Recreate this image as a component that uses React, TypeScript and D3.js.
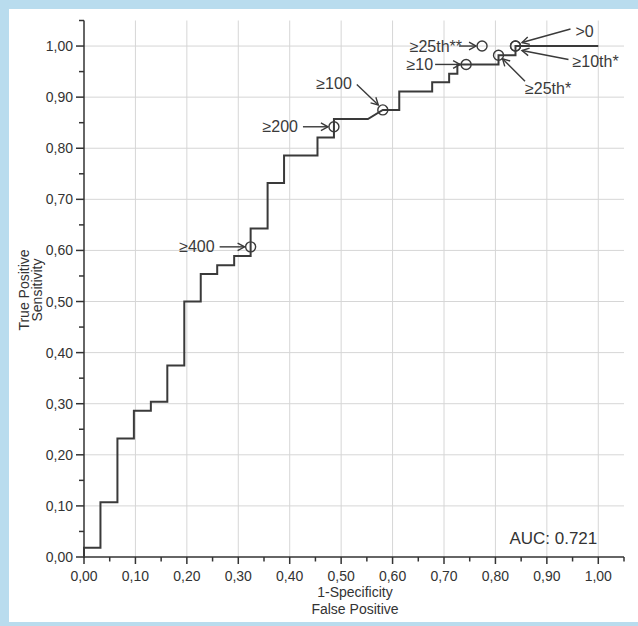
import React from "react";
import * as d3 from "d3";

// ROC curve vertices (1-Specificity, Sensitivity)
const FPR = [0, 0, 0.032, 0.032, 0.065, 0.065, 0.097, 0.097, 0.130, 0.130, 0.162, 0.162, 0.195, 0.195, 0.227, 0.227, 0.259, 0.259, 0.292, 0.292, 0.324, 0.324, 0.357, 0.357, 0.389, 0.389, 0.454, 0.454, 0.486, 0.486, 0.552, 0.581, 0.613, 0.613, 0.677, 0.677, 0.710, 0.710, 0.726, 0.726, 0.806, 0.806, 0.839, 0.839, 1.0];
const TPR = [0, 0.018, 0.018, 0.107, 0.107, 0.232, 0.232, 0.286, 0.286, 0.304, 0.304, 0.375, 0.375, 0.500, 0.500, 0.554, 0.554, 0.571, 0.571, 0.589, 0.589, 0.643, 0.643, 0.732, 0.732, 0.786, 0.786, 0.821, 0.821, 0.857, 0.857, 0.875, 0.875, 0.911, 0.911, 0.929, 0.929, 0.946, 0.946, 0.964, 0.964, 0.982, 0.982, 1.0, 1.0];

// Annotated cut-off points
const ANN_LABELS = ["≥400", "≥200", "≥100", "≥10", "≥25th**", "≥25th*", ">0", "≥10th*"];
const ANN_FPR = [0.324, 0.486, 0.581, 0.743, 0.774, 0.806, 0.839, 0.839];
const ANN_TPR = [0.607, 0.842, 0.875, 0.964, 1.0, 0.982, 1.0, 1.0];

const TICK_VALUES = [0, 0.1, 0.2, 0.3, 0.4, 0.5, 0.6, 0.7, 0.8, 0.9, 1.0];
const TICK_LABELS = ["0,00", "0,10", "0,20", "0,30", "0,40", "0,50", "0,60", "0,70", "0,80", "0,90", "1,00"];
const MINOR_TICKS = [0.05, 0.15, 0.25, 0.35, 0.45, 0.55, 0.65, 0.75, 0.85, 0.95, 1.05];

const AUC_TEXT = "AUC: 0.721";
const X_TITLE = ["1-Specificity", "False Positive"];
const Y_TITLE = ["True Positive", "Sensitivity"];

// label layout offsets (px, relative to the circle centre)
const LAYOUT = [
  { tx: -36, ty: 5.5, anchor: "end", a: [-31, 0, -6, 0] },
  { tx: -36, ty: 5.5, anchor: "end", a: [-31, 0, -6, 0] },
  { tx: -31, ty: -20.5, anchor: "end", a: [-26, -25.5, -4.5, -5] },
  { tx: -33, ty: 5.5, anchor: "end", a: [-31, 0, -6, 0] },
  { tx: -20, ty: 5.5, anchor: "end", a: [-23, 0, -6, 0] },
  { tx: 26.5, ty: 39, anchor: "start", a: [26.5, 26, 4, 3.5] },
  { tx: 60, ty: -9, anchor: "start", a: [55, -17, 6.5, -3.5] },
  { tx: 57, ty: 21, anchor: "start", a: [53, 13.5, 6.5, 4.5] },
];

const FONT = "'Liberation Sans', Arial, Helvetica, sans-serif";
const INK = "#3a3a3a";

function Arrow({ x1, y1, x2, y2 }: { x1: number; y1: number; x2: number; y2: number }) {
  const ang = Math.atan2(y2 - y1, x2 - x1);
  const L = 8, W = 0.5;
  const p1 = [x2 - L * Math.cos(ang - W), y2 - L * Math.sin(ang - W)];
  const p2 = [x2 - L * Math.cos(ang + W), y2 - L * Math.sin(ang + W)];
  return (
    <g stroke={INK} strokeWidth={1.4} fill="none">
      <line x1={x1} y1={y1} x2={x2} y2={y2} />
      <polyline points={`${p1[0]},${p1[1]} ${x2},${y2} ${p2[0]},${p2[1]}`} />
    </g>
  );
}

export default function App() {
  const W = 638, H = 626;
  const x = d3.scaleLinear().domain([0, 1.05]).range([84, 624]);
  const y = d3.scaleLinear().domain([0, 1.05]).range([557, 20.5]);
  const line = d3.line<number>().x((_, i) => x(FPR[i])).y((_, i) => y(TPR[i]));
  const path = line(FPR) || "";

  return (
    <svg width={W} height={H} style={{ position: "absolute", left: 0, top: 0, fontFamily: FONT }}>
      <rect x={0} y={0} width={W} height={H} fill="#b9dcee" />
      <rect x={9} y={9} width={629} height={613} fill="#ffffff" />

      {/* grid */}
      <g stroke="#d6d6d6" strokeWidth={1}>
        {TICK_VALUES.slice(1).map((v) => (
          <line key={"gx" + v} x1={x(v)} x2={x(v)} y1={y(0)} y2={y(1.05)} />
        ))}
        {TICK_VALUES.slice(1).map((v) => (
          <line key={"gy" + v} y1={y(v)} y2={y(v)} x1={x(0)} x2={x(1.05)} />
        ))}
      </g>

      {/* axes */}
      <g stroke="#333" strokeWidth={1.5}>
        <line x1={x(0)} x2={x(1.05)} y1={y(0)} y2={y(0)} />
        <line x1={x(0)} x2={x(0)} y1={y(0) + 1} y2={y(1.05)} />
        {TICK_VALUES.map((v) => (
          <line key={"tx" + v} x1={x(v)} x2={x(v)} y1={y(0)} y2={y(0) + 7} />
        ))}
        {MINOR_TICKS.map((v) => (
          <line key={"mx" + v} x1={x(v)} x2={x(v)} y1={y(0)} y2={y(0) + 4.5} />
        ))}
        {TICK_VALUES.map((v) => (
          <line key={"ty" + v} x1={x(0) - 8} x2={x(0)} y1={y(v)} y2={y(v)} />
        ))}
        {MINOR_TICKS.map((v) => (
          <line key={"my" + v} x1={x(0) - 5} x2={x(0)} y1={y(v)} y2={y(v)} />
        ))}
      </g>

      {/* tick labels */}
      <g fill="#333" fontSize={14}>
        {TICK_VALUES.map((v, i) => (
          <text key={"lx" + v} x={x(v)} y={y(0) + 23.5} textAnchor="middle">{TICK_LABELS[i]}</text>
        ))}
        {TICK_VALUES.map((v, i) => (
          <text key={"ly" + v} x={x(0) - 11} y={y(v) + 5} textAnchor="end">{TICK_LABELS[i]}</text>
        ))}
      </g>

      {/* axis titles */}
      <g fill="#333" fontSize={14} textAnchor="middle">
        <text x={355} y={597}>{X_TITLE[0]}</text>
        <text x={355} y={614}>{X_TITLE[1]}</text>
        <text transform={`translate(29,290) rotate(-90)`}>{Y_TITLE[0]}</text>
        <text transform={`translate(42,290) rotate(-90)`}>{Y_TITLE[1]}</text>
      </g>

      {/* ROC curve */}
      <path d={path} fill="none" stroke={INK} strokeWidth={2} strokeLinejoin="miter" />

      {/* annotations */}
      {ANN_LABELS.map((lab, i) => {
        const cx = x(ANN_FPR[i]);
        const cy = y(ANN_TPR[i]);
        const L = LAYOUT[i];
        return (
          <g key={lab}>
            <circle cx={cx} cy={cy} r={5} fill="none" stroke={INK} strokeWidth={1.4} />
            <Arrow x1={cx + L.a[0]} y1={cy + L.a[1]} x2={cx + L.a[2]} y2={cy + L.a[3]} />
            <text x={cx + L.tx} y={cy + L.ty} textAnchor={L.anchor as any} fontSize={16} fill={INK}>{lab}</text>
          </g>
        );
      })}

      <text x={x(1.0) - 1} y={544} textAnchor="end" fontSize={17} fill="#333">{AUC_TEXT}</text>
    </svg>
  );
}
